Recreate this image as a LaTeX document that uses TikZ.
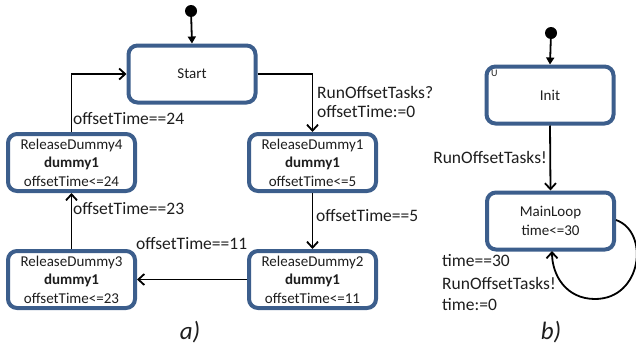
\documentclass[tikz,border=0pt]{standalone}
\usepackage{fontspec}
\setmainfont{Carlito}
\usetikzlibrary{arrows.meta}
\definecolor{boxblue}{RGB}{60,94,140}
\definecolor{txt}{RGB}{30,30,30}
\begin{document}
\begin{tikzpicture}[x=1pt,y=-1pt,
  statebox/.style={draw=boxblue,line width=4pt,rounded corners=9pt,fill=white,text=txt,
    minimum width=127pt,minimum height=57pt,align=center,inner sep=0pt,
    font=\fontsize{15pt}{18.5pt}\selectfont},
  lbl/.style={font=\fontsize{17.5pt}{21pt}\selectfont,inner sep=0pt,text=txt},
  conn/.style={line width=1.8pt,-{Straight Barb[length=6pt,width=11pt,line width=1.8pt]}},
  initarr/.style={line width=1.8pt,-{Triangle[length=7pt,width=8pt]}},
  dotn/.style={circle,fill=black,minimum size=12pt,inner sep=0pt},
  figcaption/.style={font=\fontsize{25pt}{30pt}\selectfont\itshape,inner sep=0pt,text=txt}]
\useasboundingbox (0,0) rectangle (636,351);
% part a
\node[dotn] (d1) at (191,11) {};
\node[statebox] (start) at (192,74) {Start};
\node[statebox] (rd4) at (71.5,162.5) {ReleaseDummy4\\\textbf{dummy1}\\offsetTime<=24};
\node[statebox] (rd1) at (312.5,162.5) {ReleaseDummy1\\\textbf{dummy1}\\offsetTime<=5};
\node[statebox] (rd3) at (71.5,279.5) {ReleaseDummy3\\\textbf{dummy1}\\offsetTime<=23};
\node[statebox] (rd2) at (312.5,279.5) {ReleaseDummy2\\\textbf{dummy1}\\offsetTime<=11};
\draw[initarr] (d1) -- (start.north);
\draw[conn] (start.east) -| (rd1.north);
\draw[conn] (rd1.south) -- (rd2.north);
\draw[conn] (rd2.west) -- (rd3.east);
\draw[conn] (rd3.north) -- (rd4.south);
\draw[conn] (rd4.north) |- (start.west);
\node[lbl,anchor=west] (l1) at (317,92) {RunOffsetTasks?};
\node[lbl,anchor=west] (l2) at (317,112) {offsetTime:=0};
\node[lbl,anchor=west] (l3) at (316,216) {offsetTime==5};
\node[lbl,anchor=west] (l4) at (136,244) {offsetTime==11};
\node[lbl,anchor=west] (l5) at (73,209) {offsetTime==23};
\node[lbl,anchor=west] (l6) at (73,119) {offsetTime==24};
\node[figcaption] (ca) at (190,332) {a)};
% part b
\node[dotn] (d2) at (551,33) {};
\node[statebox] (init) at (550,95) {Init};
\node[font=\fontsize{10pt}{12pt}\selectfont,anchor=north west,inner sep=0pt,text=txt] (u) at (491,70) {U};
\node[statebox] (ml) at (550.5,221) {MainLoop\\time<=30};
\draw[initarr] (d2) -- (init.north);
\draw[conn] (init.south) -- (ml.north);
\node[lbl,anchor=east] (l7) at (547,157) {RunOffsetTasks!};
\coordinate (lb) at (595,299);
\draw[line width=1.8pt] (ml.east) ++(0,-1) .. controls (650,232) and (642,299) .. (lb);
\draw[conn] (lb) .. controls (566,299) and (552,275) .. (552,251);
\node[lbl,anchor=west] (l8) at (442,261) {time==30};
\node[lbl,anchor=west] (l9) at (442,283) {RunOffsetTasks!};
\node[lbl,anchor=west] (l10) at (442,305) {time:=0};
\node[figcaption] (cb) at (551,332) {b)};
\end{tikzpicture}
\end{document}
